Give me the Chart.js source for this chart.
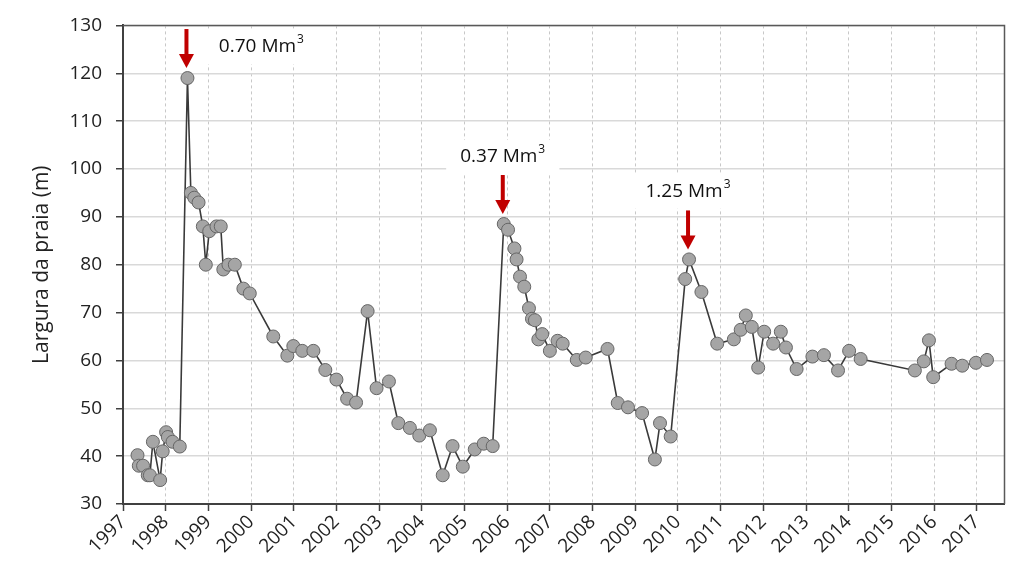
<!DOCTYPE html>
<html>
<head>
<meta charset="utf-8">
<script src="https://cdn.jsdelivr.net/npm/chart.js@4.4.1/dist/chart.umd.min.js"></script>
<style>
  html, body { margin: 0; padding: 0; background: #fff; }
  #wrap { width: 1012px; height: 570px; position: relative; }
</style>
</head>
<body>
<div id="wrap"><canvas id="beachChart"></canvas></div>
<script>
// ===== dados =====
// data do levantamento (ano decimal)
const surveyDates = [
  1997.34, 1997.37, 1997.47, 1997.58, 1997.63, 1997.70, 1997.87, 1997.93, 1998.01, 1998.05,
  1998.16, 1998.33, 1998.51, 1998.59, 1998.67, 1998.77, 1998.87, 1998.94, 1999.02, 1999.19,
  1999.29, 1999.35, 1999.47, 1999.62, 1999.82, 1999.97, 2000.52, 2000.85, 2000.99, 2001.20,
  2001.46, 2001.74, 2002.00, 2002.25, 2002.46, 2002.73, 2002.94, 2003.23, 2003.45, 2003.72,
  2003.94, 2004.19, 2004.49, 2004.72, 2004.96, 2005.24, 2005.45, 2005.66, 2005.92, 2006.02,
  2006.17, 2006.22, 2006.30, 2006.40, 2006.51, 2006.58, 2006.65, 2006.73, 2006.82, 2007.00,
  2007.18, 2007.30, 2007.63, 2007.84, 2008.35, 2008.59, 2008.83, 2009.16, 2009.46, 2009.58,
  2009.83, 2010.17, 2010.26, 2010.55, 2010.92, 2011.31, 2011.47, 2011.59, 2011.73, 2011.88,
  2012.02, 2012.23, 2012.41, 2012.53, 2012.78, 2013.15, 2013.42, 2013.75, 2014.01, 2014.28,
  2015.55, 2015.76, 2015.88, 2015.98, 2016.41, 2016.66, 2016.98, 2017.24
];

// largura da praia (m)
const beachWidth = [
  40.2, 38.0, 38.0, 36.0, 36.0, 43.0, 35.0, 41.0, 45.0, 44.0,
  43.0, 42.0, 119.0, 95.0, 94.0, 93.0, 88.0, 80.0, 87.0, 88.0,
  88.0, 79.0, 80.0, 80.0, 75.0, 74.0, 65.0, 61.0, 63.0, 62.0,
  62.0, 58.0, 56.0, 52.0, 51.2, 70.3, 54.2, 55.6, 46.9, 45.9,
  44.3, 45.4, 36.0, 42.1, 37.8, 41.4, 42.6, 42.1, 88.5, 87.3,
  83.4, 81.1, 77.5, 75.4, 70.9, 68.7, 68.4, 64.4, 65.5, 62.0,
  64.1, 63.5, 60.1, 60.6, 62.4, 51.1, 50.2, 49.0, 39.3, 46.9,
  44.1, 77.0, 81.1, 74.3, 63.5, 64.4, 66.4, 69.4, 67.0, 58.5,
  66.0, 63.5, 66.0, 62.7, 58.2, 60.8, 61.1, 57.9, 62.0, 60.3,
  57.9, 59.8, 64.2, 56.5, 59.3, 58.9, 59.5, 60.1
];

const yearTicks = [1997, 1998, 1999, 2000, 2001, 2002, 2003, 2004, 2005, 2006,
  2007, 2008, 2009, 2010, 2011, 2012, 2013, 2014, 2015, 2016, 2017];
const widthTicks = [30, 40, 50, 60, 70, 80, 90, 100, 110, 120, 130];

// alimentações artificiais (data e volume)
const nourishDates = [1998.51, 2005.92, 2010.26];
const nourishVolumes = ['0.70', '0.37', '1.25'];

// ===== plugins =====
const FONT = '"Open Sans", "Noto Sans", sans-serif';

// moldura da área do gráfico
const framePlugin = {
  id: 'frame',
  afterDraw(chart) {
    const { ctx, chartArea: a } = chart;
    ctx.save();
    ctx.strokeStyle = '#595959';
    ctx.lineWidth = 1.5;
    ctx.beginPath();
    ctx.moveTo(a.left, a.top);
    ctx.lineTo(a.right, a.top);
    ctx.lineTo(a.right, a.bottom);
    ctx.stroke();
    ctx.restore();
  }
};

// setas vermelhas + volume de areia
const nourishPlugin = {
  id: 'nourish',
  afterDatasetsDraw(chart, args, opts) {
    const { ctx } = chart;
    const xs = chart.scales.x, ys = chart.scales.y;
    ctx.save();
    nourishDates.forEach((d, i) => {
      // ponto mais próximo da data
      let best = 0;
      surveyDates.forEach((t, k) => {
        if (Math.abs(t - d) < Math.abs(surveyDates[best] - d)) best = k;
      });
      const px = xs.getPixelForValue(surveyDates[best]) - 1;
      const py = ys.getPixelForValue(beachWidth[best]);
      const tip = py - 10;
      const tail = tip - 39;

      ctx.strokeStyle = '#c00000';
      ctx.fillStyle = '#c00000';
      ctx.lineWidth = 4;
      ctx.beginPath();
      ctx.moveTo(px, tail);
      ctx.lineTo(px, tip - 10);
      ctx.stroke();
      ctx.beginPath();
      ctx.moveTo(px - 7.5, tip - 14);
      ctx.lineTo(px + 7.5, tip - 14);
      ctx.lineTo(px, tip);
      ctx.closePath();
      ctx.fill();

      // texto com caixa branca
      const off = opts.offsets[i];
      const tx = px + off[0], ty = tail + off[1];
      const base = nourishVolumes[i] + ' Mm';
      ctx.font = '19px ' + FONT;
      const bw = ctx.measureText(base).width;
      const w = bw + 8;
      ctx.fillStyle = '#fff';
      ctx.fillRect(tx - w / 2 - 14, ty - 17, w + 28, 34);
      ctx.fillStyle = '#111';
      ctx.textBaseline = 'middle';
      ctx.textAlign = 'left';
      ctx.fillText(base, tx - w / 2, ty);
      ctx.font = '12px ' + FONT;
      ctx.fillText('3', tx - w / 2 + bw + 1, ty - 7);
    });
    ctx.restore();
  }
};

// ===== gráfico =====
const points = surveyDates.map((t, i) => ({ x: t, y: beachWidth[i] }));

new Chart(document.getElementById('beachChart'), {
  type: 'scatter',
  data: {
    datasets: [{
      data: points,
      showLine: true,
      borderColor: '#3a3a3a',
      borderWidth: 1.6,
      pointRadius: 6.5,
      pointBackgroundColor: '#a5a5a5',
      pointBorderColor: '#666666',
      pointBorderWidth: 1,
      tension: 0
    }]
  },
  options: {
    responsive: true,
    maintainAspectRatio: false,
    animation: false,
    events: [],
    layout: { padding: { top: 23, right: 7, left: 0, bottom: 0 } },
    plugins: {
      legend: { display: false },
      tooltip: { enabled: false },
      nourish: { offsets: [[75, 18], [0, -18], [0, -19]] }
    },
    scales: {
      x: {
        type: 'linear',
        min: 1997,
        max: 2017.65,
        afterBuildTicks(scale) { scale.ticks = yearTicks.map(v => ({ value: v })); },
        afterFit(scale) { scale.height = 66; },
        ticks: {
          autoSkip: false,
          minRotation: 45,
          maxRotation: 45,
          color: '#222',
          font: { family: FONT, size: 19 },
          padding: 0,
          callback: v => String(v)
        },
        grid: {
          color: '#c8c8c8',
          lineWidth: 1,
          tickColor: '#404040',
          tickLength: 7,
          tickWidth: 1.5
        },
        border: { color: '#404040', width: 2, dash: [3, 3] }
      },
      y: {
        min: 30,
        max: 130,
        afterBuildTicks(scale) { scale.ticks = widthTicks.map(v => ({ value: v })); },
        afterFit(scale) { scale.width = 123; },
        ticks: {
          color: '#222',
          font: { family: FONT, size: 19 },
          padding: 14
        },
        grid: {
          color: '#d9d9d9',
          lineWidth: 1.5,
          tickColor: '#404040',
          tickLength: 7,
          tickWidth: 1.5
        },
        border: { color: '#404040', width: 2 },
        title: {
          display: true,
          text: 'Largura da praia (m)',
          color: '#222',
          font: { family: FONT, size: 21 },
          padding: { top: 29, bottom: 0 }
        }
      }
    }
  },
  plugins: [framePlugin, nourishPlugin]
});
</script>
</body>
</html>
